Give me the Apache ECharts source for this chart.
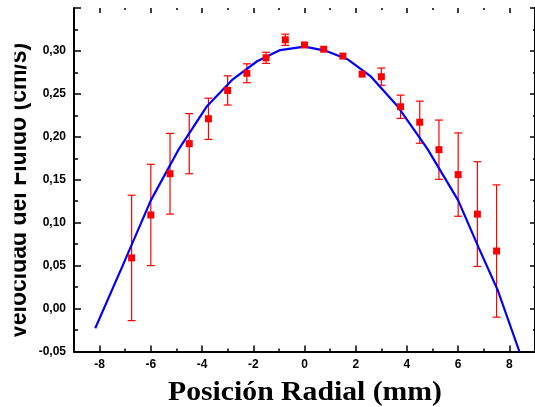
<!DOCTYPE html>
<html>
<head>
<meta charset="utf-8">
<script src="https://cdn.jsdelivr.net/npm/echarts@6/dist/echarts.min.js"></script>
<style>
html,body{margin:0;padding:0;background:#fff;}
#c{width:535px;height:407px;}
</style>
</head>
<body>
<div id="c"></div>
<script>
// ---- data ----
const xPos = [-6.75, -6, -5.25, -4.5, -3.75, -3, -2.25, -1.5, -0.75, 0, 0.75, 1.5, 2.25, 3, 3.75, 4.5, 5.25, 6, 6.75, 7.5];
const velocity = [0.059, 0.109, 0.157, 0.192, 0.221, 0.254, 0.274, 0.292, 0.313, 0.307, 0.302, 0.294, 0.273, 0.270, 0.235, 0.217, 0.185, 0.156, 0.110, 0.067];
const velErr = [0.073, 0.059, 0.047, 0.035, 0.024, 0.017, 0.011, 0.0065, 0.0065, 0, 0, 0, 0, 0.010, 0.0135, 0.0245, 0.0345, 0.0485, 0.061, 0.077];
const fitX = [-8.17, -7.1, -6.0, -4.9, -3.8, -2.8, -1.85, -0.95, 0, 0.85, 1.7, 2.6, 3.65, 4.8, 6.0, 6.8, 7.55, 8.39];
const fitY = [-0.023, 0.050, 0.126, 0.186, 0.236, 0.267, 0.288, 0.301, 0.305, 0.300, 0.290, 0.270, 0.235, 0.186, 0.126, 0.071, 0.021, -0.050];
const xMajorTicks = [-8, -6, -4, -2, 0, 2, 4, 6, 8];
const xMinorTicks = [-9, -7, -5, -3, -1, 1, 3, 5, 7, 9];
const xTitle = 'Posición Radial (mm)';
const yTitle = 'Velocidad del Fluido (cm/s)';

const chart = echarts.init(document.getElementById('c'), null, {renderer: 'canvas'});

const labelFont = {fontFamily: '"Liberation Sans", Arial, sans-serif', fontWeight: 'bold', fontSize: 12, color: '#000'};

function xAxisBase(extra) {
  return Object.assign({
    type: 'value', min: -9, max: 9, gridIndex: 0,
    splitLine: {show: false}
  }, extra);
}

const option = {
  animation: false,
  backgroundColor: '#fff',
  grid: {left: 74, top: 8, width: 463, height: 343.5, containLabel: false},
  xAxis: [
    xAxisBase({
      position: 'bottom',
      axisLine: {show: true, onZero: false, lineStyle: {color: '#000', width: 2}},
      axisTick: {show: true, inside: true, length: 6, customValues: xMajorTicks, lineStyle: {color: '#000', width: 1.5}},
      axisLabel: Object.assign({show: true, margin: 7, customValues: xMajorTicks}, labelFont)
    }),
    xAxisBase({
      position: 'bottom',
      axisLine: {show: false, onZero: false},
      axisTick: {show: true, inside: true, length: 3, customValues: xMinorTicks, lineStyle: {color: '#000', width: 1.5}},
      axisLabel: {show: false}
    }),
    xAxisBase({
      position: 'top',
      axisLine: {show: false, onZero: false},
      axisTick: {show: true, inside: true, length: 5, customValues: xMajorTicks, lineStyle: {color: '#000', width: 1.5}},
      axisLabel: {show: false}
    }),
    xAxisBase({
      position: 'top',
      axisLine: {show: false, onZero: false},
      axisTick: {show: true, inside: true, length: 2, customValues: xMinorTicks, lineStyle: {color: '#000', width: 1.5}},
      axisLabel: {show: false}
    })
  ],
  yAxis: [
    {
      type: 'value', min: -0.05, max: 0.35, interval: 0.05, position: 'left',
      splitLine: {show: false},
      axisLine: {show: true, onZero: false, lineStyle: {color: '#000', width: 2}},
      axisTick: {show: true, inside: true, length: 7, lineStyle: {color: '#000', width: 1.5}},
      minorTick: {show: true, splitNumber: 2, length: 4, lineStyle: {color: '#000', width: 1.5}},
      axisLabel: Object.assign({
        margin: 8,
        formatter: function (v) {
          if (Math.abs(v - 0.35) < 1e-9) return '';
          return v.toFixed(2).replace('.', ',');
        }
      }, labelFont)
    },
    {
      type: 'value', min: -0.05, max: 0.35, interval: 0.05, position: 'right',
      splitLine: {show: false},
      axisLine: {show: true, onZero: false, lineStyle: {color: '#000', width: 2}},
      axisTick: {show: true, inside: true, length: 5, lineStyle: {color: '#000', width: 1.5}},
      minorTick: {show: true, splitNumber: 2, length: 2, lineStyle: {color: '#000', width: 1.5}},
      axisLabel: {show: false}
    }
  ],
  series: [
    {
      type: 'custom',
      name: 'error',
      xAxisIndex: 0, yAxisIndex: 0,
      z: 2,
      data: xPos.map((x, i) => [x, velocity[i], velErr[i]]),
      renderItem: function (params, api) {
        const x = api.value(0), y = api.value(1), e = api.value(2);
        if (!e) return null;
        const hi = api.coord([x, y + e]);
        const lo = api.coord([x, y - e]);
        const hw = 4;
        const st = {stroke: '#ff0000', lineWidth: 1.2};
        return {
          type: 'group',
          children: [
            {type: 'line', shape: {x1: hi[0], y1: hi[1], x2: lo[0], y2: lo[1]}, style: st},
            {type: 'line', shape: {x1: hi[0] - hw, y1: hi[1], x2: hi[0] + hw, y2: hi[1]}, style: st},
            {type: 'line', shape: {x1: lo[0] - hw, y1: lo[1], x2: lo[0] + hw, y2: lo[1]}, style: st}
          ]
        };
      }
    },
    {
      type: 'line',
      name: 'fit',
      xAxisIndex: 0, yAxisIndex: 0,
      z: 3,
      data: fitX.map((x, i) => [x, fitY[i]]),
      showSymbol: false,
      smooth: false,
      lineStyle: {color: '#0000ff', width: 2.2},
      clip: true
    },
    {
      type: 'scatter',
      name: 'datos',
      xAxisIndex: 0, yAxisIndex: 0,
      z: 4,
      data: xPos.map((x, i) => [x, velocity[i]]),
      symbol: 'rect',
      symbolSize: 7,
      itemStyle: {color: '#ff0000', opacity: 1}
    }
  ],
  graphic: [
    {
      type: 'text',
      x: 305, y: 393,
      scaleX: 1.1,
      style: {
        text: xTitle,
        font: 'bold 27px "Liberation Serif", "Times New Roman", serif',
        fill: '#000',
        align: 'center',
        verticalAlign: 'middle'
      }
    },
    {
      type: 'text',
      x: 19, y: 191,
      rotation: Math.PI / 2,
      scaleY: 1.15,
      style: {
        text: yTitle,
        font: 'bold 23px "Liberation Sans", Arial, sans-serif',
        fill: '#000',
        align: 'center',
        verticalAlign: 'middle'
      }
    },
    {
      type: 'rect',
      z: 100,
      shape: {x: 0, y: 0, width: 14.5, height: 407},
      style: {fill: '#fff'}
    }
  ]
};

chart.setOption(option);
</script>
</body>
</html>
